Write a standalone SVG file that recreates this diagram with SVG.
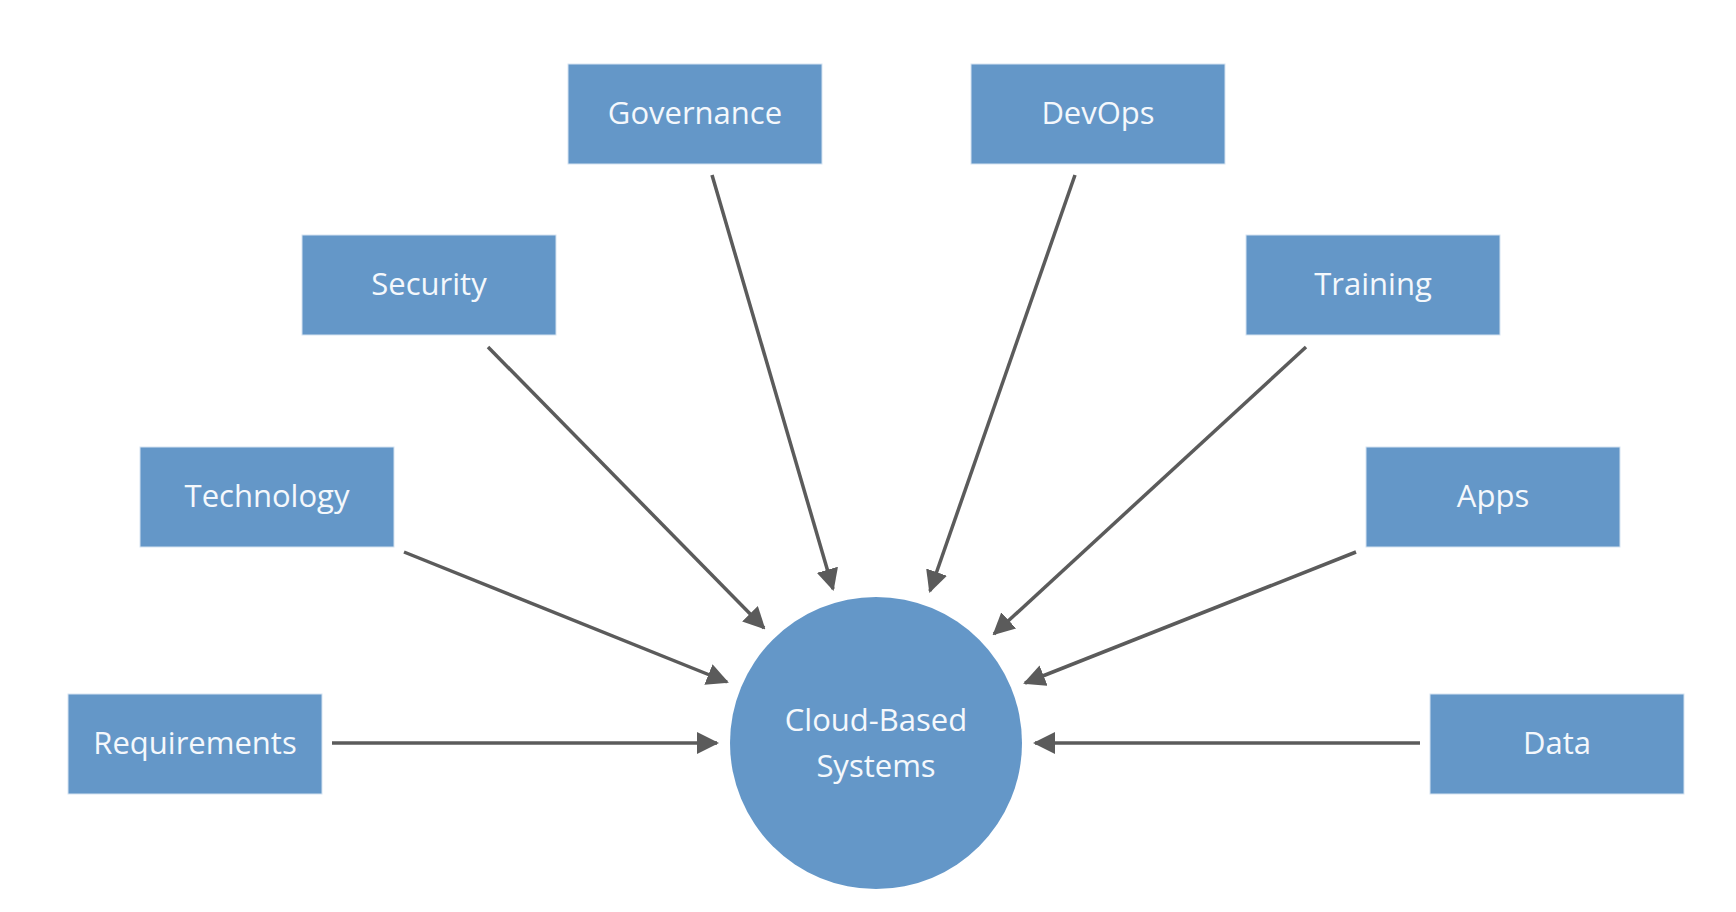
<svg xmlns="http://www.w3.org/2000/svg" width="1736" height="912" viewBox="0 0 1736 912">
<style>
.box{fill:#6497c8;stroke:#d5e3f1;stroke-width:1}
.lbl{font-family:"Open Sans",Lato,"Liberation Sans",sans-serif;font-size:31px;fill:#f4f8fc;text-anchor:middle;dominant-baseline:central}
.con{stroke:#5b5b5b;stroke-width:3.5;fill:none;marker-end:url(#arr)}
</style>
<defs>
<marker id="arr" markerUnits="userSpaceOnUse" markerWidth="22" markerHeight="22" viewBox="0 0 22 22" refX="20" refY="11" orient="auto">
<path d="M0,0 L22,11 L0,22 z" fill="#5b5b5b"/>
</marker>
</defs>
<rect width="1736" height="912" fill="#ffffff"/>
<g id="connectors">
<line class="con" x1="332" y1="743" x2="717" y2="743"/>
<line class="con" x1="404" y1="552" x2="727" y2="682"/>
<line class="con" x1="488" y1="347" x2="764" y2="628"/>
<line class="con" x1="712" y1="175" x2="833" y2="589"/>
<line class="con" x1="1075" y1="175" x2="930" y2="591"/>
<line class="con" x1="1306" y1="347" x2="994" y2="634"/>
<line class="con" x1="1356" y1="552" x2="1025" y2="683"/>
<line class="con" x1="1420" y1="743" x2="1035" y2="743"/>
</g>
<g id="governance"><rect class="box" x="568" y="64" width="254" height="100"/><text class="lbl" x="695" y="112">Governance</text></g>
<g id="devops"><rect class="box" x="971" y="64" width="254" height="100"/><text class="lbl" x="1098" y="112">DevOps</text></g>
<g id="security"><rect class="box" x="302" y="235" width="254" height="100"/><text class="lbl" x="429" y="283">Security</text></g>
<g id="training"><rect class="box" x="1246" y="235" width="254" height="100"/><text class="lbl" x="1373" y="283">Training</text></g>
<g id="technology"><rect class="box" x="140" y="447" width="254" height="100"/><text class="lbl" x="267" y="495">Technology</text></g>
<g id="apps"><rect class="box" x="1366" y="447" width="254" height="100"/><text class="lbl" x="1493" y="495">Apps</text></g>
<g id="requirements"><rect class="box" x="68" y="694" width="254" height="100"/><text class="lbl" x="195" y="742">Requirements</text></g>
<g id="data"><rect class="box" x="1430" y="694" width="254" height="100"/><text class="lbl" x="1557" y="742">Data</text></g>
<g id="cloud"><circle cx="876" cy="743" r="146" fill="#6497c8"/><text class="lbl" x="876" y="719">Cloud-Based</text><text class="lbl" x="876" y="765">Systems</text></g>
</svg>
